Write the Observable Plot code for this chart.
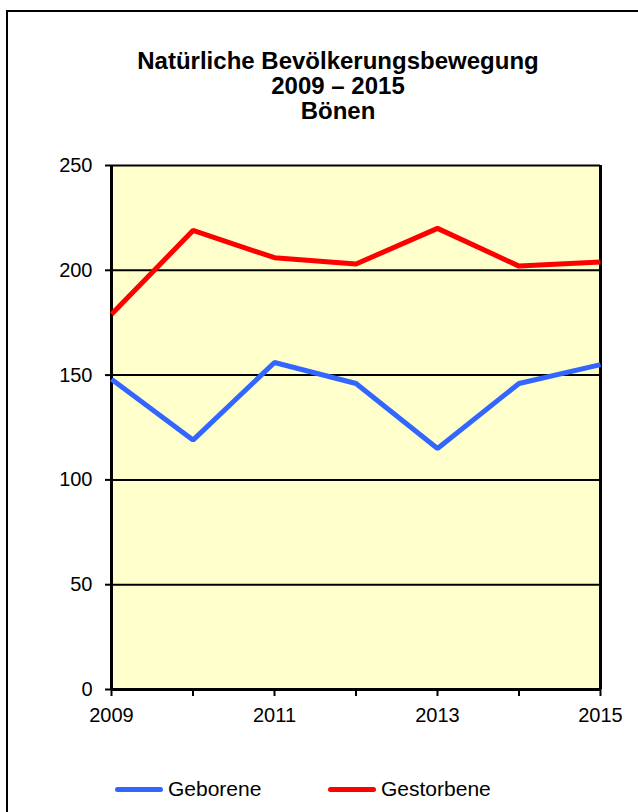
<!DOCTYPE html>
<html>
<head>
<meta charset="utf-8">
<script src="https://cdn.jsdelivr.net/npm/d3@7"></script>
<script src="https://cdn.jsdelivr.net/npm/@observablehq/plot@0.6"></script>
<style>
  html, body { margin: 0; padding: 0; background: #fff; }
  body { width: 638px; height: 812px; overflow: hidden; position: relative; font-family: "Liberation Sans", Arial, sans-serif; }
  #frame { position: absolute; left: 6px; top: 10px; width: 700px; height: 900px; border: 2px solid #000; box-sizing: border-box; }
  #title { position: absolute; left: 0; top: 0; width: 676px; height: 140px; box-sizing: border-box; padding-top: 48px; text-align: center; font-weight: bold; font-size: 24px; line-height: 25px; color: #000; }
  #chart { position: absolute; left: 0; top: 140px; }
  #legend { position: absolute; left: 0; top: 740px; width: 638px; height: 72px; }
  .item { position: absolute; top: 37px; display: flex; align-items: center; font-size: 21px; color: #000; }
  .swatch { width: 48px; height: 5px; border-radius: 3px; margin-right: 5px; }
</style>
</head>
<body>
<div id="frame"></div>
<div id="title">Natürliche Bevölkerungsbewegung<br>2009 – 2015<br>Bönen</div>
<div id="chart"></div>
<div id="legend"></div>
<script>
const years = [2009, 2010, 2011, 2012, 2013, 2014, 2015];
const geborene = [148, 119, 156, 146, 115, 146, 155];
const gestorbene = [179, 219, 206, 203, 220, 202, 204];
const seriesNames = ["Geborene", "Gestorbene"];
const seriesColors = ["#3366FF", "#FF0000"];
const yTicks = [0, 50, 100, 150, 200, 250];
const xLabels = [2009, 2011, 2013, 2015];

const data = [
  ...years.map((y, i) => ({year: y, value: geborene[i], series: seriesNames[0]})),
  ...years.map((y, i) => ({year: y, value: gestorbene[i], series: seriesNames[1]}))
];

const chart = Plot.plot({
  width: 638,
  height: 600,
  marginTop: 25,
  marginBottom: 51,
  marginLeft: 111,
  marginRight: 38,
  style: {fontFamily: "'Liberation Sans', Arial, sans-serif", fontSize: "20px", color: "#000", background: "transparent"},
  x: {domain: [2009, 2015]},
  y: {domain: [0, 250]},
  color: {domain: seriesNames, range: seriesColors},
  marks: [
    Plot.frame({fill: "#FFFFCC", stroke: "none"}),
    Plot.gridY(yTicks, {stroke: "#000", strokeOpacity: 1, strokeWidth: 2}),
    Plot.ruleX([2009, 2015], {stroke: "#000", strokeWidth: 3}),
    Plot.ruleY([0], {stroke: "#000", strokeWidth: 3}),
    Plot.line(data, {x: "year", y: "value", z: "series", stroke: "series", strokeWidth: 5, strokeLinejoin: "miter", strokeLinecap: "butt"}),
    Plot.axisY({ticks: yTicks, tickSize: 6, tickPadding: 13, fontSize: 20, strokeWidth: 2, label: null}),
    Plot.axisX({ticks: years, tickSize: 7, tickPadding: 0, strokeWidth: 2, text: null, label: null}),
    Plot.axisX({ticks: xLabels, tickSize: 0, tickPadding: 18, fontSize: 20, tickFormat: d => String(d), label: null})
  ]
});
document.getElementById("chart").appendChild(chart);

const legend = document.getElementById("legend");
const lefts = [115, 328];
seriesNames.forEach((name, i) => {
  const item = document.createElement("div");
  item.className = "item";
  item.style.left = lefts[i] + "px";
  const sw = document.createElement("div");
  sw.className = "swatch";
  sw.style.background = seriesColors[i];
  const lab = document.createElement("span");
  lab.textContent = name;
  item.appendChild(sw);
  item.appendChild(lab);
  legend.appendChild(item);
});
</script>
</body>
</html>
